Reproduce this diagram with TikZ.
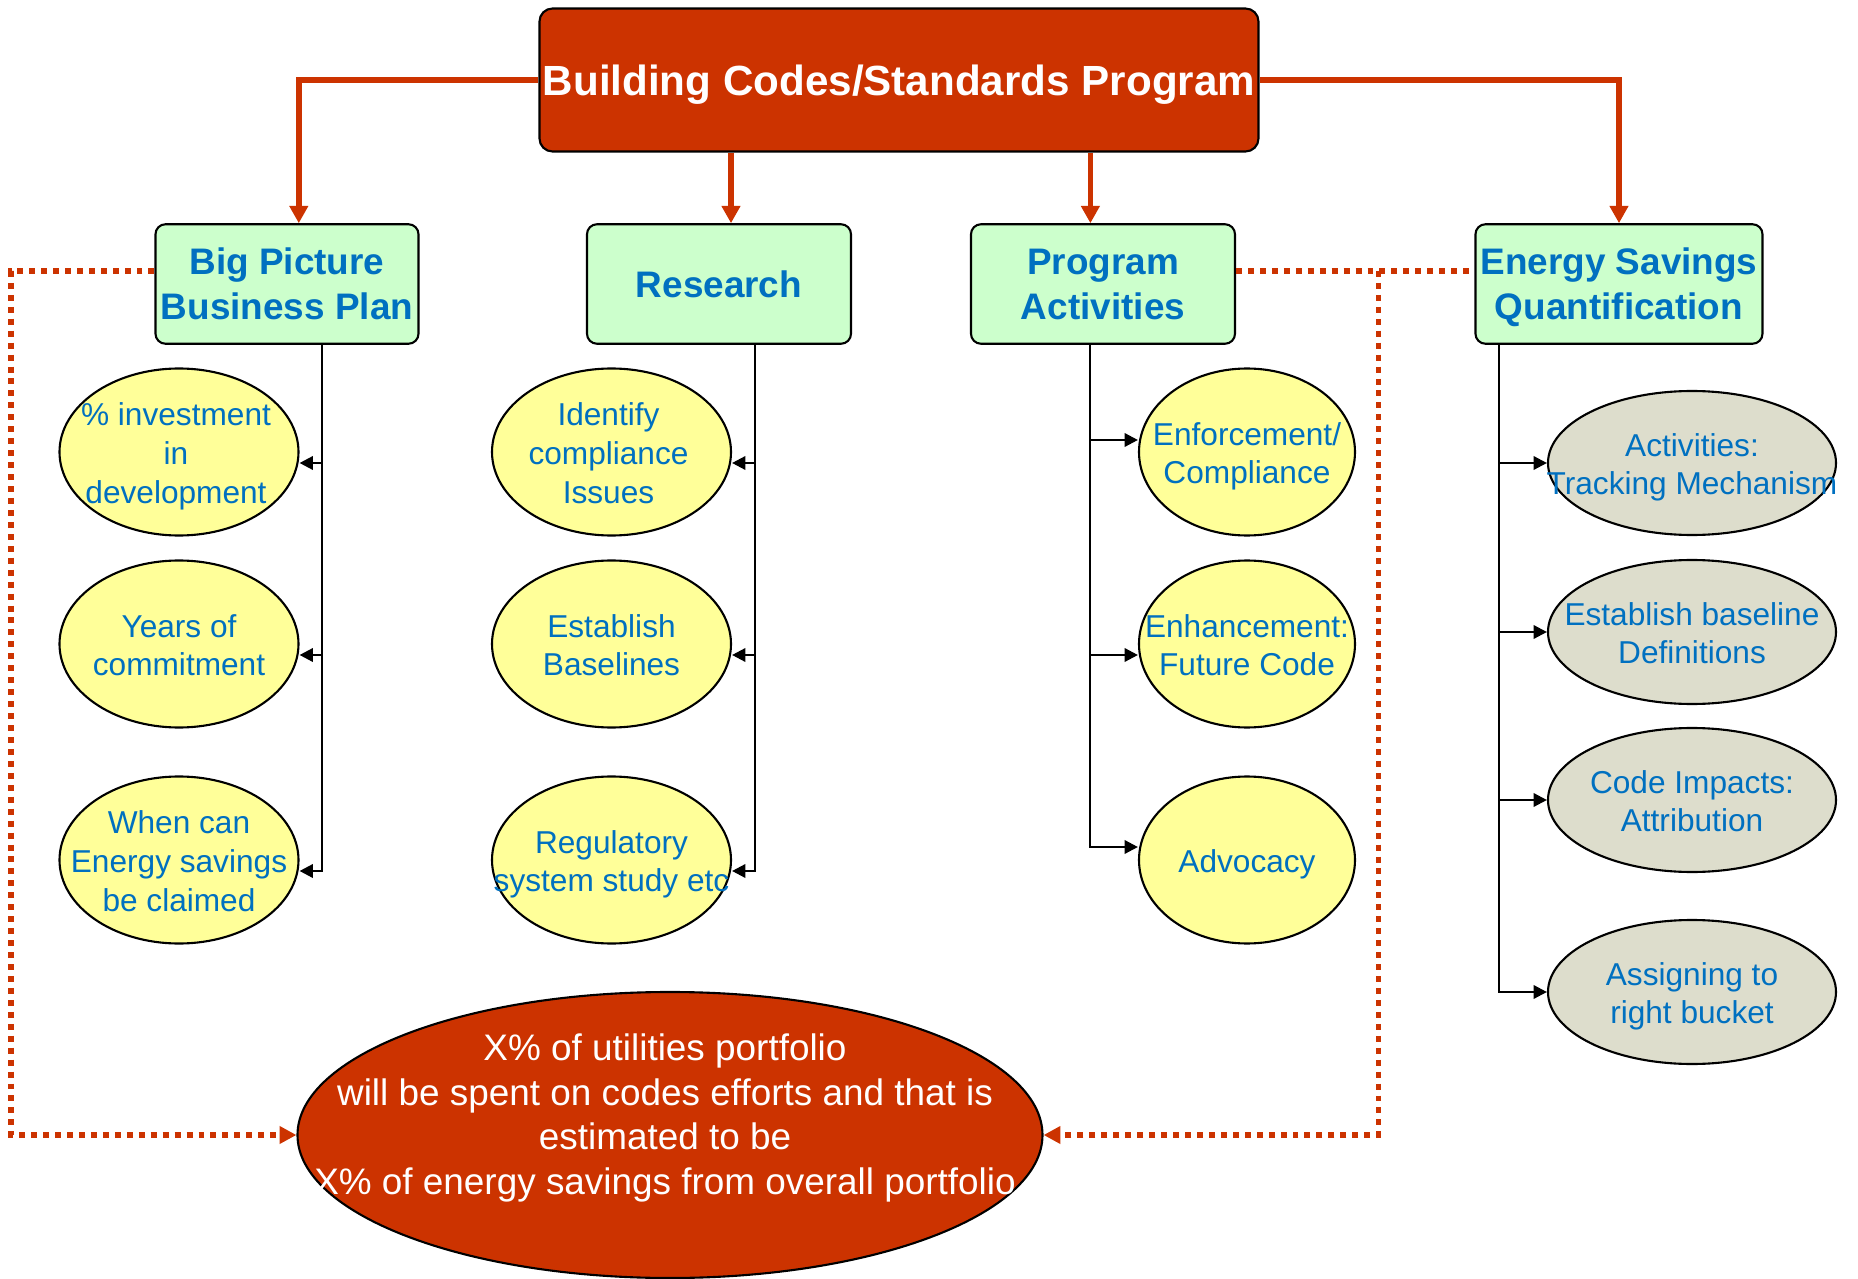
\documentclass[tikz,border=0pt]{standalone}
\usepackage{fontspec}
\setmainfont{Liberation Sans}
\usetikzlibrary{shapes.geometric,arrows.meta}
\definecolor{brick}{HTML}{CC3300}
\definecolor{mint}{HTML}{CCFFCC}
\definecolor{pale}{HTML}{FFFF99}
\definecolor{putty}{HTML}{DDDDCC}
\definecolor{ink}{HTML}{0070C0}
\tikzset{
    head/.style={draw=black,line width=0.6pt,fill=brick,rounded corners=0.13cm,text=white,
        font=\fontsize{12}{14.4}\selectfont\bfseries,inner sep=0pt,text depth=0pt,minimum width=7.19cm,minimum height=1.43cm},
    topic/.style={draw=black,line width=0.6pt,fill=mint,rounded corners=0.1cm,text=ink,
        font=\fontsize{10.5}{12.8}\selectfont\bfseries,align=center,inner sep=0pt,text depth=0pt,minimum height=1.195cm},
    ybub/.style={ellipse,draw=black,line width=0.6pt,fill=pale,inner sep=0pt,minimum height=1.67cm},
    gbub/.style={ellipse,draw=black,line width=0.6pt,fill=putty,inner sep=0pt,minimum width=2.88cm,minimum height=1.44cm},
    btxt/.style={text=ink,font=\fontsize{9}{11}\selectfont,align=center,inner sep=0pt,text depth=0pt,yshift=-0.1mm},
    bigtxt/.style={text=white,font=\fontsize{10.5}{12.7}\selectfont,align=center,inner sep=0pt},
    redarr/.style={draw=brick,line width=1.6pt,-{Triangle[length=4.9pt,width=5.1pt]}},
    conn/.style={draw=black,line width=0.7pt},
    blkarr/.style={conn,-{Triangle[length=3.8pt,width=3.8pt]}},
    dots/.style={draw=brick,line width=1.7pt,dash pattern=on 1.7pt off 1.7pt},
    dotarr/.style={dots,-{Triangle[length=4.8pt,width=4.8pt]}}
}
\begin{document}
\begin{tikzpicture}
\useasboundingbox (0,0) rectangle (18.58,-12.79);

\node[head] (top) at (8.99,-0.80) {Building Codes/Standards Program};

% second row
\node[topic,minimum width=2.63cm] (bp) at (2.87,-2.84) {Big Picture\\Business Plan};
\node[topic,minimum width=2.64cm] (rs) at (7.19,-2.84) {Research};
\node[topic,minimum width=2.64cm] (pa) at (11.03,-2.84) {Program\\Activities};
\node[topic,minimum width=2.87cm] (es) at (16.19,-2.84) {Energy Savings\\Quantification};

% bubbles
\node[ybub,minimum width=2.39cm,label={[btxt,xshift=-0.3mm]center:{\% investment\\in\\development}}] (inv) at (1.79,-4.52) {};
\node[ybub,minimum width=2.39cm,label={[btxt]center:{Years of\\commitment}}] (yrs) at (1.79,-6.44) {};
\node[ybub,minimum width=2.39cm,label={[btxt]center:{When can\\Energy savings\\be claimed}}] (when) at (1.79,-8.60) {};

\node[ybub,minimum width=2.39cm,label={[btxt,xshift=-0.3mm]center:{Identify\\compliance\\Issues}}] (idc) at (6.115,-4.52) {};
\node[ybub,minimum width=2.39cm,label={[btxt]center:{Establish\\Baselines}}] (base) at (6.115,-6.44) {};
\node[ybub,minimum width=2.39cm,label={[btxt]center:{Regulatory\\system study etc}}] (reg) at (6.115,-8.60) {};

\node[ybub,minimum width=2.16cm,label={[btxt]center:{Enforcement/\\Compliance}}] (enf) at (12.47,-4.52) {};
\node[ybub,minimum width=2.16cm,label={[btxt]center:{Enhancement:\\Future Code}}] (enh) at (12.47,-6.44) {};
\node[ybub,minimum width=2.16cm,label={[btxt]center:{Advocacy}}] (adv) at (12.47,-8.60) {};

\node[gbub,label={[btxt]center:{Activities:\\Tracking Mechanism}}] (act) at (16.92,-4.63) {};
\node[gbub,label={[btxt]center:{Establish baseline\\Definitions}}] (defs) at (16.92,-6.32) {};
\node[gbub,label={[btxt]center:{Code Impacts:\\Attribution}}] (imp) at (16.92,-8.00) {};
\node[gbub,label={[btxt]center:{Assigning to\\right bucket}}] (bkt) at (16.92,-9.92) {};

\node[ellipse,draw=black,line width=0.6pt,fill=brick,minimum width=7.45cm,minimum height=2.86cm,inner sep=0pt,
  label={[bigtxt,xshift=-0.5mm,yshift=1.7mm]center:{X\% of utilities portfolio\\will be spent on codes efforts and that is\\estimated to be\\X\% of energy savings from overall portfolio}}] (big) at (6.70,-11.35) {};

% red arrows from the top
\coordinate (r1) at ([xshift=1.18mm]bp.north);
\coordinate (r2) at ([xshift=1.2mm]rs.north);
\coordinate (r3) at ([xshift=-1.26mm]pa.north);
\draw[redarr] (top.west) -| (r1);
\draw[redarr] (top.south -| r2) -- (r2);
\draw[redarr] (top.south -| r3) -- (r3);
\draw[redarr] (top.east) -| (es.north);

% big picture branch
\coordinate (b1) at (3.22,-4.63);
\coordinate (b2) at (3.22,-6.55);
\coordinate (b3) at (3.22,-8.71);
\draw[blkarr] (bp.south -| b1) -- (b3) -- (b3 -| when.east);
\draw[blkarr] (b1) -- (b1 -| inv.east);
\draw[blkarr] (b2) -- (b2 -| yrs.east);

% research branch
\coordinate (s1) at (7.55,-4.63);
\coordinate (s2) at (7.55,-6.55);
\coordinate (s3) at (7.55,-8.71);
\draw[blkarr] (rs.south -| s1) -- (s3) -- (s3 -| reg.east);
\draw[blkarr] (s1) -- (s1 -| idc.east);
\draw[blkarr] (s2) -- (s2 -| base.east);

% program branch
\coordinate (p1) at (10.90,-4.40);
\coordinate (p2) at (10.90,-6.55);
\coordinate (p3) at (10.90,-8.47);
\draw[blkarr] (pa.south -| p1) -- (p3) -- (p3 -| adv.west);
\draw[blkarr] (p1) -- (p1 -| enf.west);
\draw[blkarr] (p2) -- (p2 -| enh.west);

% savings branch
\coordinate (q1) at (14.99,-4.63);
\coordinate (q2) at (14.99,-6.32);
\coordinate (q3) at (14.99,-8.00);
\coordinate (q4) at (14.99,-9.92);
\draw[blkarr] (es.south -| q1) -- (q4) -- (q4 -| bkt.west);
\draw[blkarr] (q1) -- (q1 -| act.west);
\draw[blkarr] (q2) -- (q2 -| defs.west);
\draw[blkarr] (q3) -- (q3 -| imp.west);

% dotted feedback lines
\coordinate (dl) at ([yshift=1.3mm]bp.west);
\coordinate (dr) at ([yshift=1.3mm]pa.east);
\coordinate (lx) at (0.11,0);
\coordinate (rx) at (13.785,0);
\draw[dotarr] (dl) -| (lx |- big.west) -- (big.west);
\draw[dots] (dr) -- (dr -| es.west);
\draw[dotarr] (dr -| rx) |- (big.east);
\end{tikzpicture}
\end{document}
